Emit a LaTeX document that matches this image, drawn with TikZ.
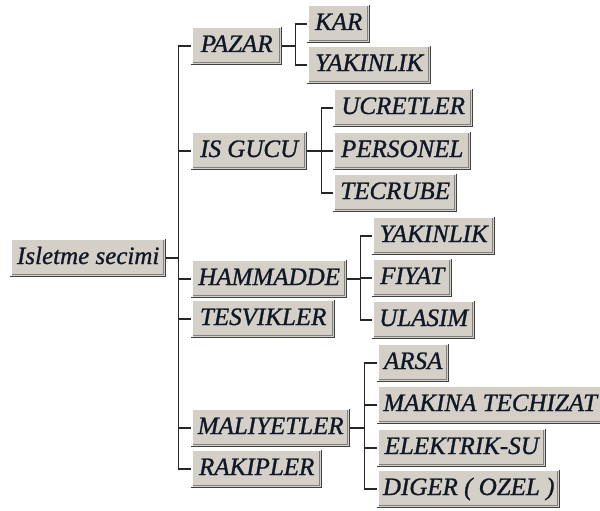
\documentclass[tikz,border=0pt]{standalone}
\usepackage{fontspec}
\newfontfamily\btnfont{Liberation Serif}[FakeBold=1]
\definecolor{btnface}{HTML}{D4D0C8}
\definecolor{btndark}{HTML}{404040}
\definecolor{btngray}{HTML}{808080}
\definecolor{btntext}{HTML}{101828}
\tikzset{
  btn/.style={fill=btnface, anchor=west, inner sep=0, minimum height=38, text=btntext,
    text height=16pt, text depth=4pt, font=\btnfont\fontsize{25}{28}\selectfont\itshape},
  wire/.style={line width=1.5, black!85}
}

\begin{document}
\begin{tikzpicture}[x=1pt,y=-1pt]
    \useasboundingbox (0,0) rectangle (600,511);
    % root and first level
    \node[btn, minimum width=156] (root) at (10,258) {Isletme secimi};
    \node[btn, minimum width=91]  (pazar) at (191,46) {PAZAR};
    \node[btn, minimum width=116] (isgucu) at (191,151) {IS GUCU};
    \node[btn, minimum width=156] (hammadde) at (191,279) {HAMMADDE};
    \node[btn, minimum width=144] (tesvikler) at (191,319) {TESVIKLER};
    \node[btn, minimum width=159] (maliyetler) at (191,428) {MALIYETLER};
    \node[btn, minimum width=131] (rakipler) at (191,469) {RAKIPLER};
    % second level
    \node[btn, minimum width=63]  (kar) at (307,24) {KAR};
    \node[btn, minimum width=124] (yakinlikA) at (307,65) {YAKINLIK};
    \node[btn, minimum width=140] (ucretler) at (333,108) {UCRETLER};
    \node[btn, minimum width=138] (personel) at (333,151) {PERSONEL};
    \node[btn, minimum width=124] (tecrube) at (333,193) {TECRUBE};
    \node[btn, minimum width=123] (yakinlikB) at (372,236) {YAKINLIK};
    \node[btn, minimum width=80]  (fiyat) at (372,278) {FIYAT};
    \node[btn, minimum width=103] (ulasim) at (372,320) {ULASIM};
    \node[btn, minimum width=72]  (arsa) at (377,363) {ARSA};
    \node[btn, minimum width=226] (makina) at (377,405) {MAKINA TECHIZAT};
    \node[btn, minimum width=169] (elektrik) at (377,448) {ELEKTRIK-SU};
    \node[btn, minimum width=183] (diger) at (377,489) {DIGER ( OZEL )};
    % button edges
    \foreach \n in {root,pazar,isgucu,hammadde,tesvikler,maliyetler,rakipler,kar,yakinlikA,ucretler,personel,tecrube,yakinlikB,fiyat,ulasim,arsa,makina,elektrik,diger}{
      \draw[white, line width=1.5] ([xshift=.75pt,yshift=1.5pt]\n.south west) |- ([xshift=-1.5pt,yshift=-.75pt]\n.north east);
      \draw[btngray, line width=1] ([xshift=1.5pt,yshift=2.5pt]\n.south west) -| ([xshift=-2.5pt,yshift=-1.5pt]\n.north east);
      \draw[btndark, line width=1.5] ([yshift=.75pt]\n.south west) -| ([xshift=-.75pt]\n.north east);
    }
    % connectors
    \foreach \c in {pazar,isgucu,hammadde,tesvikler,maliyetler,rakipler}
      \draw[wire] (root.east) -- ++(12,0) |- (\c.west);
    \foreach \c in {kar,yakinlikA}
      \draw[wire] (pazar.east) -- ++(13,0) |- (\c.west);
    \foreach \c in {ucretler,personel,tecrube}
      \draw[wire] (isgucu.east) -- ++(14,0) |- (\c.west);
    \foreach \c in {yakinlikB,fiyat,ulasim}
      \draw[wire] (hammadde.east) -- ++(13,0) |- (\c.west);
    \foreach \c in {arsa,makina,elektrik,diger}
      \draw[wire] (maliyetler.east) -- ++(14,0) |- (\c.west);
\end{tikzpicture}
\end{document}
